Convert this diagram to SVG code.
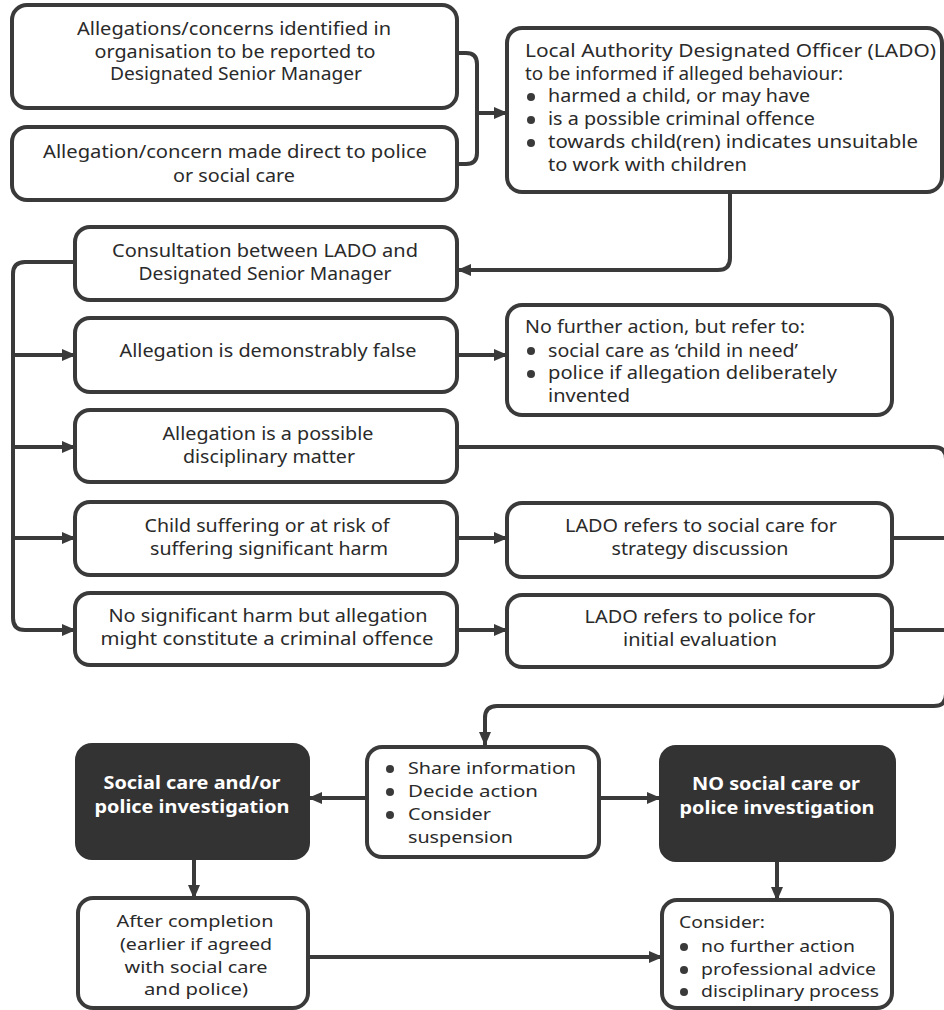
<svg xmlns="http://www.w3.org/2000/svg" width="944" height="1010" viewBox="0 0 944 1010">
<defs>
<marker id="ah" markerUnits="userSpaceOnUse" markerWidth="14" markerHeight="14" viewBox="0 0 14 14" refX="13" refY="7" orient="auto">
<path d="M0,1 L14,7 L0,13 Z" fill="#3a3a3a"/>
</marker>
<style>
.box{fill:#fff;stroke:#3a3a3a;stroke-width:4}
.dark{fill:#333;stroke:#333;stroke-width:4}
.t{font-family:"Noto Sans","Open Sans",sans-serif;font-size:17.5px;fill:#2a2a2a}
.s{font-size:17px}
.c{text-anchor:middle}
.w{fill:#fff;font-weight:bold}
.b{fill:#3a3a3a}
.ln{fill:none;stroke:#3a3a3a;stroke-width:4}
.ar{marker-end:url(#ah)}
</style>
</defs>
<rect width="944" height="1010" fill="#fff"/>

<g id="connectors">
<path class="ln" d="M457,53 H466 Q477,53 477,64 V153 Q477,164 466,164 H457"/>
<path class="ln ar" d="M477,113 H507"/>
<path class="ln ar" d="M730,192 V258 Q730,270 718,270 H458"/>
<path class="ln" d="M75,262 H25 Q13,262 13,274"/>
<path class="ln ar" d="M13,274 V618 Q13,630 25,630 H75"/>
<path class="ln ar" d="M13,355 H75"/>
<path class="ln ar" d="M13,447 H75"/>
<path class="ln ar" d="M13,538 H75"/>
<path class="ln ar" d="M457,355 H507"/>
<path class="ln ar" d="M457,538 H507"/>
<path class="ln ar" d="M457,630 H507"/>
<path class="ln" d="M457,447 H934 Q946,447 946,459 V694 Q946,706 934,706 H497 Q485,706 485,718"/>
<path class="ln ar" d="M485,716 V745"/>
<path class="ln" d="M892,538 H946"/>
<path class="ln" d="M892,630 H946"/>
<path class="ln ar" d="M367,798 H309"/>
<path class="ln ar" d="M599,798 H660"/>
<path class="ln ar" d="M194,858 V898"/>
<path class="ln ar" d="M777,860 V900"/>
<path class="ln ar" d="M308,957 H662"/>
</g>

<g id="n1">
<rect class="box" x="12" y="5" width="445" height="103" rx="15"/>
<text class="t c" x="234" y="35" textLength="314" lengthAdjust="spacingAndGlyphs">Allegations/concerns identified in</text>
<text class="t c" x="235" y="58" textLength="281" lengthAdjust="spacingAndGlyphs">organisation to be reported to</text>
<text class="t c" x="236" y="80" textLength="252" lengthAdjust="spacingAndGlyphs">Designated Senior Manager</text>
</g>
<g id="n2">
<rect class="box" x="12" y="127" width="445" height="73" rx="15"/>
<text class="t c" x="235" y="158" textLength="384" lengthAdjust="spacingAndGlyphs">Allegation/concern made direct to police</text>
<text class="t c" x="234" y="182" textLength="122" lengthAdjust="spacingAndGlyphs">or social care</text>
</g>
<g id="n3">
<rect class="box" x="507" y="28" width="435" height="164" rx="15"/>
<text class="t" x="525" y="57" textLength="411" lengthAdjust="spacingAndGlyphs">Local Authority Designated Officer (LADO)</text>
<text class="t" x="525" y="80" textLength="318" lengthAdjust="spacingAndGlyphs">to be informed if alleged behaviour:</text>
<circle class="b" cx="531" cy="97" r="4"/>
<text class="t" x="548" y="102" textLength="262" lengthAdjust="spacingAndGlyphs">harmed a child, or may have</text>
<circle class="b" cx="531" cy="120" r="4"/>
<text class="t" x="548" y="125" textLength="267" lengthAdjust="spacingAndGlyphs">is a possible criminal offence</text>
<circle class="b" cx="531" cy="143" r="4"/>
<text class="t" x="548" y="148" textLength="370" lengthAdjust="spacingAndGlyphs">towards child(ren) indicates unsuitable</text>
<text class="t" x="548" y="171" textLength="199" lengthAdjust="spacingAndGlyphs">to work with children</text>
</g>
<g id="n4">
<rect class="box" x="75" y="227" width="382" height="73" rx="15"/>
<text class="t c" x="265" y="257" textLength="306" lengthAdjust="spacingAndGlyphs">Consultation between LADO and</text>
<text class="t c" x="265" y="280" textLength="253" lengthAdjust="spacingAndGlyphs">Designated Senior Manager</text>
</g>
<g id="n5">
<rect class="box" x="75" y="318" width="382" height="74" rx="15"/>
<text class="t c" x="268" y="357" textLength="297" lengthAdjust="spacingAndGlyphs">Allegation is demonstrably false</text>
</g>
<g id="n6">
<rect class="box" x="507" y="305" width="385" height="110" rx="15"/>
<text class="t" x="525" y="333" textLength="280" lengthAdjust="spacingAndGlyphs">No further action, but refer to:</text>
<circle class="b" cx="531" cy="351" r="4"/>
<text class="t" x="548" y="357" textLength="250" lengthAdjust="spacingAndGlyphs">social care as ‘child in need’</text>
<circle class="b" cx="531" cy="374" r="4"/>
<text class="t" x="548" y="379" textLength="289" lengthAdjust="spacingAndGlyphs">police if allegation deliberately</text>
<text class="t" x="548" y="402" textLength="82" lengthAdjust="spacingAndGlyphs">invented</text>
</g>
<g id="n7">
<rect class="box" x="75" y="410" width="382" height="72" rx="15"/>
<text class="t c" x="268" y="440" textLength="211" lengthAdjust="spacingAndGlyphs">Allegation is a possible</text>
<text class="t c" x="269" y="463" textLength="172" lengthAdjust="spacingAndGlyphs">disciplinary matter</text>
</g>
<g id="n8">
<rect class="box" x="75" y="502" width="382" height="73" rx="15"/>
<text class="t c" x="267" y="532" textLength="245" lengthAdjust="spacingAndGlyphs">Child suffering or at risk of</text>
<text class="t c" x="269" y="555" textLength="238" lengthAdjust="spacingAndGlyphs">suffering significant harm</text>
</g>
<g id="n9">
<rect class="box" x="75" y="593" width="382" height="72" rx="15"/>
<text class="t c" x="268" y="622" textLength="319" lengthAdjust="spacingAndGlyphs">No significant harm but allegation</text>
<text class="t c" x="267" y="645" textLength="333" lengthAdjust="spacingAndGlyphs">might constitute a criminal offence</text>
</g>
<g id="n10">
<rect class="box" x="507" y="503" width="385" height="74" rx="15"/>
<text class="t c" x="701" y="532" textLength="272" lengthAdjust="spacingAndGlyphs">LADO refers to social care for</text>
<text class="t c" x="700" y="555" textLength="177" lengthAdjust="spacingAndGlyphs">strategy discussion</text>
</g>
<g id="n11">
<rect class="box" x="507" y="595" width="385" height="72" rx="15"/>
<text class="t c" x="700" y="623" textLength="231" lengthAdjust="spacingAndGlyphs">LADO refers to police for</text>
<text class="t c" x="700" y="646" textLength="154" lengthAdjust="spacingAndGlyphs">initial evaluation</text>
</g>
<g id="n12">
<rect class="dark" x="77" y="745" width="231" height="113" rx="15"/>
<text class="t s c w" x="192" y="789" textLength="177" lengthAdjust="spacingAndGlyphs">Social care and/or</text>
<text class="t s c w" x="192" y="813" textLength="195" lengthAdjust="spacingAndGlyphs">police investigation</text>
</g>
<g id="n13">
<rect class="box" x="367" y="747" width="232" height="110" rx="15"/>
<circle class="b" cx="390" cy="769" r="4"/>
<text class="t s" x="408" y="774" textLength="168" lengthAdjust="spacingAndGlyphs">Share information</text>
<circle class="b" cx="390" cy="792" r="4"/>
<text class="t s" x="408" y="797" textLength="130" lengthAdjust="spacingAndGlyphs">Decide action</text>
<circle class="b" cx="390" cy="815" r="4"/>
<text class="t s" x="408" y="820" textLength="83" lengthAdjust="spacingAndGlyphs">Consider</text>
<text class="t s" x="408" y="843" textLength="105" lengthAdjust="spacingAndGlyphs">suspension</text>
</g>
<g id="n14">
<rect class="dark" x="661" y="747" width="233" height="113" rx="15"/>
<text class="t s c w" x="776" y="790" textLength="168" lengthAdjust="spacingAndGlyphs">NO social care or</text>
<text class="t s c w" x="777" y="814" textLength="195" lengthAdjust="spacingAndGlyphs">police investigation</text>
</g>
<g id="n15">
<rect class="box" x="78" y="898" width="230" height="110" rx="15"/>
<text class="t s c" x="195" y="927" textLength="157" lengthAdjust="spacingAndGlyphs">After completion</text>
<text class="t s c" x="196" y="950" textLength="152" lengthAdjust="spacingAndGlyphs">(earlier if agreed</text>
<text class="t s c" x="196" y="973" textLength="143" lengthAdjust="spacingAndGlyphs">with social care</text>
<text class="t s c" x="196" y="995" textLength="104" lengthAdjust="spacingAndGlyphs">and police)</text>
</g>
<g id="n16">
<rect class="box" x="662" y="900" width="230" height="108" rx="15"/>
<text class="t s" x="679" y="928" textLength="86" lengthAdjust="spacingAndGlyphs">Consider:</text>
<circle class="b" cx="684" cy="947" r="4"/>
<text class="t s" x="701" y="952" textLength="154" lengthAdjust="spacingAndGlyphs">no further action</text>
<circle class="b" cx="684" cy="970" r="4"/>
<text class="t s" x="701" y="975" textLength="175" lengthAdjust="spacingAndGlyphs">professional advice</text>
<circle class="b" cx="684" cy="992" r="4"/>
<text class="t s" x="701" y="997" textLength="178" lengthAdjust="spacingAndGlyphs">disciplinary process</text>
</g>
</svg>
